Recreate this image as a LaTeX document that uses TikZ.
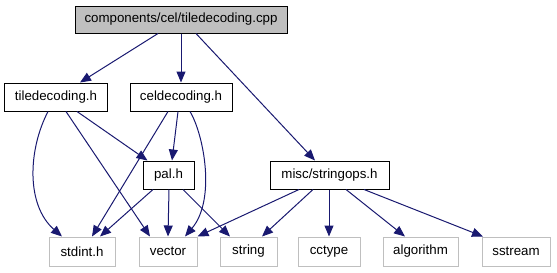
\documentclass[tikz,border=0pt]{standalone}
\usepackage{fontspec}
\setmainfont{Liberation Sans}
\usetikzlibrary{arrows.meta}
\definecolor{edgeblue}{HTML}{191970}
\definecolor{leafgray}{HTML}{BFBFBF}
\begin{document}
\begin{tikzpicture}[x=1bp,y=-1bp,
  every node/.style={font=\fontsize{13.3bp}{16bp}\selectfont, inner sep=0pt, anchor=center},
  mainfile/.style={draw=black, fill=leafgray, line width=1bp, minimum height=27bp},
  header/.style={draw=black, fill=white, line width=1bp, minimum height=28bp},
  leaf/.style={draw=leafgray, fill=white, line width=1bp, minimum height=29bp},
  dep/.style={draw=edgeblue, line width=1bp, -{Triangle[length=11bp,width=9bp]}}]
\useasboundingbox (0,0) rectangle (557,272);

% files
\node[mainfile, minimum width=212bp] (top) at (181,19.5) {components/cel/tiledecoding.cpp};
\node[header, minimum width=102bp] (tile) at (56,97) {tiledecoding.h};
\node[header, minimum width=102bp] (cel) at (181,97) {celdecoding.h};
\node[header, minimum width=51bp] (pal) at (168.5,175) {pal.h};
\node[header, minimum width=119bp] (strops) at (329.5,175) {misc/stringops.h};
\node[leaf, minimum width=66bp] (stdint) at (82,251.5) {stdint.h};
\node[leaf, minimum width=58bp] (vector) at (168,251.5) {vector};
\node[leaf, minimum width=57bp] (string) at (248.5,251.5) {string};
\node[leaf, minimum width=62bp] (cctype) at (329,251.5) {cctype};
\node[leaf, minimum width=75bp] (algorithm) at (420.5,251.5) {algorithm};
\node[leaf, minimum width=68bp] (sstream) at (516,251.5) {sstream};

% includes of the source file
\draw[dep] ([xshift=-23bp]top.south) -- ([xshift=24bp]tile.north);
\draw[dep] (top.south) -- (cel.north);
\draw[dep] ([xshift=15bp]top.south) -- ([xshift=-14.5bp]strops.north);

% tiledecoding.h
\draw[dep] ([xshift=-8bp]tile.south) .. controls (28,150) and (26,205) .. ([xshift=-20bp]stdint.north);
\draw[dep] ([xshift=10bp]tile.south) -- ([xshift=-18bp]vector.north);
\draw[dep] ([xshift=21bp]tile.south) -- ([xshift=-21bp]pal.north);

% celdecoding.h
\draw[dep] ([xshift=-13bp]cel.south) -- ([xshift=10bp]stdint.north);
\draw[dep] ([xshift=-3bp]cel.south) -- ([xshift=3.5bp]pal.north);
\draw[dep] ([xshift=9bp]cel.south) .. controls (204,135) and (216,200) .. ([xshift=17bp]vector.north);

% pal.h
\draw[dep] ([xshift=-15.5bp]pal.south) -- ([xshift=18bp]stdint.north);
\draw[dep] ([xshift=0.5bp]pal.south) -- (vector.north);
\draw[dep] ([xshift=14.5bp]pal.south) -- ([xshift=-18.5bp]string.north);

% misc/stringops.h
\draw[dep] ([xshift=-30.5bp]strops.south) -- (vector.north east);
\draw[dep] ([xshift=-16.5bp]strops.south) -- ([xshift=13.5bp]string.north);
\draw[dep] ([xshift=-0.5bp]strops.south) -- (cctype.north);
\draw[dep] ([xshift=16.5bp]strops.south) -- ([xshift=-15.5bp]algorithm.north);
\draw[dep] ([xshift=34.5bp]strops.south) -- ([xshift=-33bp]sstream.north);
\end{tikzpicture}
\end{document}
